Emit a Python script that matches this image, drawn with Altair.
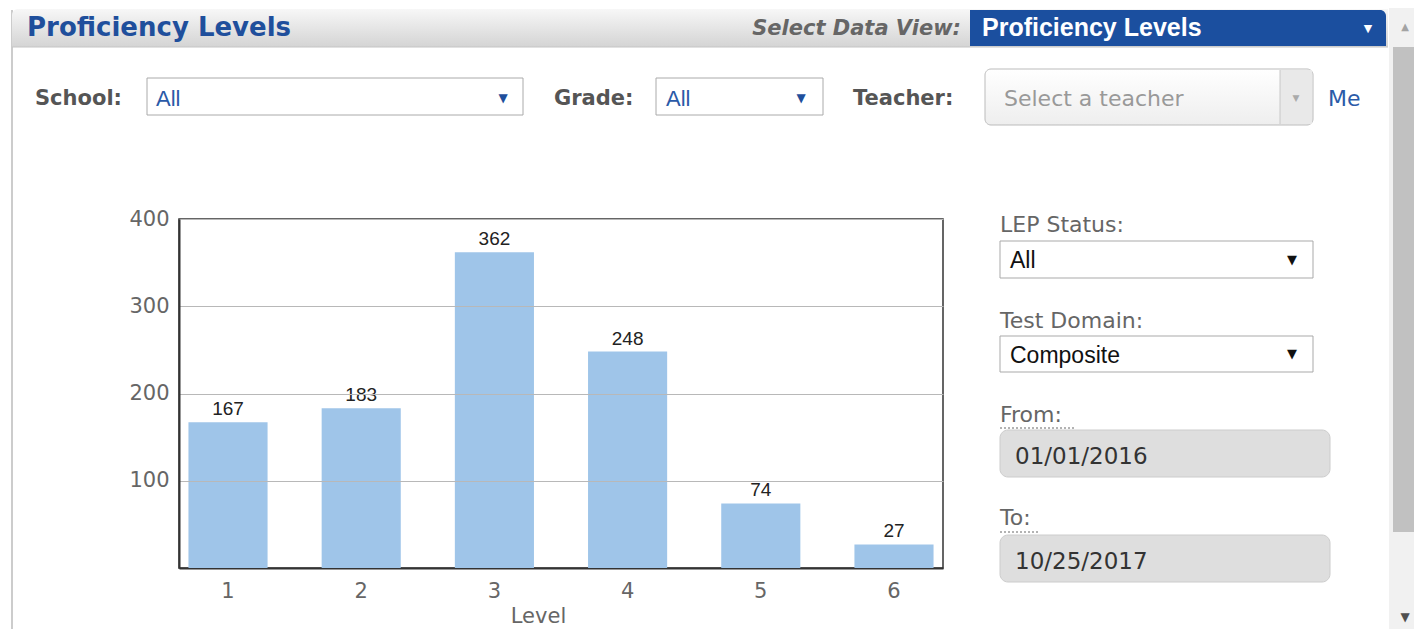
import altair as alt
import pandas as pd

# ---- chart data ----
levels = ["1", "2", "3", "4", "5", "6"]
counts = [167, 183, 362, 248, 74, 27]
y_ticks = [100, 200, 300, 400]

# ---- UI texts ----
header_title = "Proficiency Levels"
view_label = "Select Data View:"
view_value = "Proficiency Levels"
school_label, school_value = "School:", "All"
grade_label, grade_value = "Grade:", "All"
teacher_label, teacher_value = "Teacher:", "Select a teacher"
me_label = "Me"
lep_label, lep_value = "LEP Status:", "All"
domain_label, domain_value = "Test Domain:", "Composite"
from_label, from_value = "From:", "01/01/2016"
to_label, to_value = "To:", "10/25/2017"

df = pd.DataFrame({"Level": levels, "Count": counts})

OX, OY = 179, 219  # page position of the plot origin
W, H = 764, 349
SANS = "DejaVu Sans"
ARIAL = "Liberation Sans"


def one():
    return alt.Chart(alt.Data(values=[{}]))


def txt(s, X, Y, size, color, font=SANS, weight="normal", style="normal", align="left", baseline="alphabetic"):
    return one().mark_text(text=s, align=align, baseline=baseline, fontSize=size, font=font,
                           fontWeight=weight, fontStyle=style, color=color).encode(
        x=alt.value(X - OX), y=alt.value(Y - OY))


def box(X1, Y1, X2, Y2, fill, stroke=None, sw=1, r=0, **kw):
    props = dict(fill=fill, cornerRadius=r, **kw)
    if stroke:
        props.update(stroke=stroke, strokeWidth=sw)
    return one().mark_rect(**props).encode(
        x=alt.value(X1 - OX), x2=alt.value(X2 - OX), y=alt.value(Y1 - OY), y2=alt.value(Y2 - OY))


def hline(X1, X2, Y, color, sw=1, dash=None):
    props = dict(color=color, strokeWidth=sw)
    if dash:
        props["strokeDash"] = dash
    return one().mark_rule(**props).encode(
        x=alt.value(X1 - OX), x2=alt.value(X2 - OX), y=alt.value(Y - OY))


def vline(X, Y1, Y2, color, sw=1):
    return one().mark_rule(color=color, strokeWidth=sw).encode(
        x=alt.value(X - OX), y=alt.value(Y1 - OY), y2=alt.value(Y2 - OY))


header_grad = alt.LinearGradient(gradient="linear", x1=0, x2=0, y1=0, y2=1,
                                 stops=[alt.GradientStop(color="#f7f7f7", offset=0),
                                        alt.GradientStop(color="#d4d4d4", offset=1)])
teacher_grad = alt.LinearGradient(gradient="linear", x1=0, x2=0, y1=0, y2=1,
                                  stops=[alt.GradientStop(color="#ffffff", offset=0),
                                         alt.GradientStop(color="#eeeeee", offset=1)])

ui = [
    # panel frame
    vline(12, 10, 637, "#cccccc", 2),
    hline(12, 1388, 634, "#dddddd", 1),
    # header bar
    box(12, 9, 1388, 47, header_grad, r=0, cornerRadiusTopLeft=6),
    hline(12, 1388, 47, "#c4c4c4", 1),
    txt(header_title, 27, 36, 26, "#1f4f9c", weight="bold"),
    txt(view_label, 961, 35, 21, "#666666", weight="bold", style="italic", align="right"),
    box(970, 10, 1386, 46, "#1b4f9f", cornerRadiusTopRight=6),
    txt(view_value, 982, 36, 25, "#ffffff", font=ARIAL, weight="bold"),
    txt("▼", 1368, 29, 11, "#ffffff", align="center", baseline="middle"),
    # scrollbar
    box(1389, 8, 1414, 637, "#f1f1f1"),
    box(1393, 47, 1414, 532, "#c1c1c1"),
    txt("▲", 1405, 27, 10, "#a3a3a3", align="center", baseline="middle"),
    txt("▼", 1405, 617, 12, "#505050", align="center", baseline="middle"),
    # filter row
    txt(school_label, 35, 105, 21, "#555555", weight="bold"),
    box(147, 78, 523, 115, "#ffffff", "#aaaaaa"),
    txt(school_value, 156, 106, 22, "#2b5aa8", font=ARIAL),
    txt("▼", 503, 98, 12, "#1f4f9c", align="center", baseline="middle"),
    txt(grade_label, 554, 105, 21, "#555555", weight="bold"),
    box(656, 78, 823, 115, "#ffffff", "#aaaaaa"),
    txt(grade_value, 666, 106, 22, "#2b5aa8", font=ARIAL),
    txt("▼", 801, 98, 12, "#1f4f9c", align="center", baseline="middle"),
    txt(teacher_label, 853, 105, 21, "#555555", weight="bold"),
    box(985, 69, 1313, 125, teacher_grad, "#bbbbbb", r=6),
    box(1280, 70, 1312, 124, "#e9e9e9"),
    vline(1280, 70, 124, "#c8c8c8"),
    txt(teacher_value, 1004, 106, 22, "#999999"),
    txt("▼", 1296, 98, 9, "#aaaaaa", align="center", baseline="middle"),
    txt(me_label, 1328, 106, 22, "#2b5aa8"),
    # right panel
    txt(lep_label, 1000, 232, 22, "#666666"),
    box(1000, 241, 1313, 278, "#ffffff", "#a9a9a9"),
    txt(lep_value, 1010, 268, 23, "#111111", font=ARIAL),
    txt("▼", 1292, 260, 13, "#111111", align="center", baseline="middle"),
    txt(domain_label, 1000, 328, 22, "#666666"),
    box(1000, 336, 1313, 372, "#ffffff", "#a9a9a9"),
    txt(domain_value, 1010, 363, 23, "#111111", font=ARIAL),
    txt("▼", 1292, 354, 13, "#111111", align="center", baseline="middle"),
    txt(from_label, 1000, 422, 22, "#666666"),
    hline(1000, 1076, 428, "#666666", 1, [2, 2]),
    box(1000, 430, 1330, 477, "#dedede", "#cccccc", r=8),
    txt(from_value, 1015, 464, 23, "#333333"),
    txt(to_label, 1000, 525, 22, "#666666"),
    hline(1000, 1038, 532, "#666666", 1, [2, 2]),
    box(1000, 535, 1330, 582, "#dedede", "#cccccc", r=8),
    txt(to_value, 1015, 569, 23, "#333333"),
]

base = alt.Chart(df)

bars = base.mark_bar(color="#9fc5e9").encode(
    x=alt.X("Level:N", sort=levels,
            scale=alt.Scale(paddingInner=0.406, paddingOuter=0.071),
            axis=alt.Axis(title="Level", labelAngle=0, ticks=False, domain=True,
                          domainColor="#333333", domainWidth=2,
                          labelFont=SANS, labelFontSize=21, labelColor="#666666",
                          labelPadding=12, titleFont=SANS, titleFontSize=21,
                          titleFontWeight="normal", titleColor="#666666",
                          titleX=359, titleY=54, titleAlign="center",
                          titleBaseline="alphabetic")),
    y=alt.Y("Count:Q", scale=alt.Scale(domain=[0, 400]),
            axis=alt.Axis(title=None, values=y_ticks, ticks=False, domain=True,
                          domainColor="#333333", domainWidth=2,
                          grid=True, gridColor="#b8b8b8", gridWidth=1, zindex=1,
                          labelFont=SANS, labelFontSize=21, labelColor="#666666",
                          labelPadding=10)),
)

labels = base.mark_text(font=ARIAL, fontSize=19, color="#222222", baseline="alphabetic",
                        dy=-7).encode(
    x=alt.X("Level:N", sort=levels),
    y=alt.Y("Count:Q"),
    text=alt.Text("Count:Q"),
)

chart = alt.layer(*ui, bars, labels).properties(
    width=W, height=H,
    autosize=alt.AutoSizeParams(type="none"),
    padding={"left": 171, "top": 211, "right": 471, "bottom": 61},
    background="#ffffff",
).configure_view(stroke="#333333", strokeWidth=1.5)

chart.save("out.html", embed_options={"renderer": "svg", "actions": False})
